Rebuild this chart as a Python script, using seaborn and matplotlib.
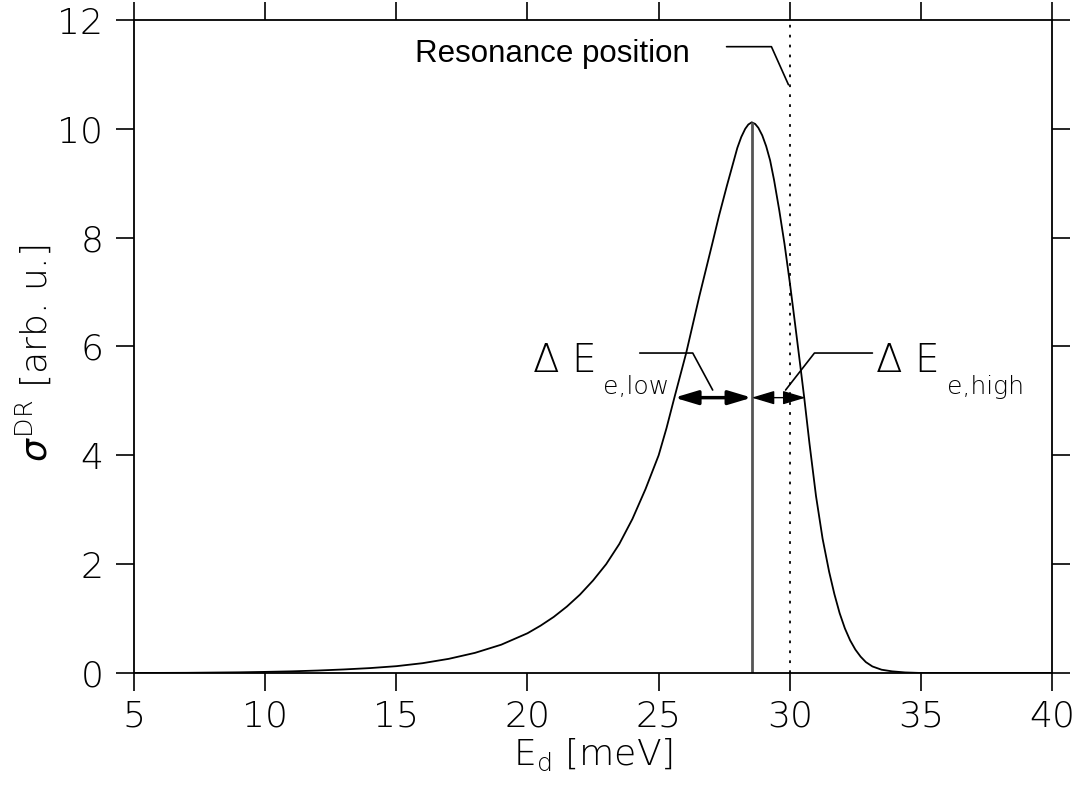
import matplotlib
matplotlib.use("Agg")
import numpy as np
import pandas as pd
import seaborn as sns
import matplotlib.pyplot as plt
from matplotlib import font_manager

# Dielectronic recombination resonance profile (collision energy vs cross section)
energy = [5.0, 7.0, 9.0, 10.0, 11.0, 12.0, 13.0, 14.0, 15.0, 16.0, 17.0, 18.0,
          19.0, 20.0, 20.5, 21.0, 21.5, 22.0, 22.5, 23.0, 23.5, 24.0, 24.5,
          25.0, 25.3, 25.6, 26.05, 26.55, 27.05, 27.3, 27.6, 27.8, 28.0, 28.15,
          28.3, 28.42, 28.55, 28.68, 28.8, 28.95, 29.1, 29.25, 29.4, 29.6, 29.8,
          30.0, 30.2, 30.4, 30.55, 30.75, 31.0, 31.25, 31.5, 31.7, 31.9, 32.1,
          32.3, 32.5, 32.7, 32.9, 33.15, 33.5, 33.9, 34.4, 35.0, 40.0]
sigma = [0.0, 0.003, 0.012, 0.02, 0.03, 0.045, 0.065, 0.09, 0.125, 0.18, 0.26,
         0.37, 0.52, 0.73, 0.87, 1.03, 1.22, 1.44, 1.7, 2.0, 2.37, 2.83, 3.38,
         4.0, 4.5, 5.06, 5.88, 6.92, 7.9, 8.4, 8.95, 9.3, 9.65, 9.85,
         10.0, 10.08, 10.12, 10.09, 10.02, 9.88, 9.68, 9.42, 9.06, 8.5, 7.88,
         7.18, 6.42, 5.65, 5.06, 4.22, 3.25, 2.47, 1.86, 1.45, 1.1, 0.82,
         0.6, 0.43, 0.3, 0.2, 0.12, 0.06, 0.03, 0.01, 0.0, 0.0]

resonance_energy = 30.0
fwhm_low_edge = 25.6
fwhm_high_edge = 30.6

x_ticks = [5, 10, 15, 20, 25, 30, 35, 40]
y_ticks = [0, 2, 4, 6, 8, 10, 12]


def light_font():
    """Pick a thin sans-serif face for the axis text."""
    prefs = ["DejaVu Sans", "Lato", "Roboto", "Open Sans", "Inter", "Noto Sans"]
    for fam in prefs:
        weights = []
        for fe in font_manager.fontManager.ttflist:
            if fe.name == fam and fe.style == "normal":
                w = fe.weight
                if isinstance(w, str):
                    w = font_manager.weight_dict.get(w, 400)
                if w < 400:
                    weights.append(w)
        if weights:
            return fam, min(weights, key=lambda v: abs(v - 200))
    return "DejaVu Sans", 400


sns.set_theme(style="ticks")
fam, wt = light_font()
plt.rcParams["font.family"] = [fam, "DejaVu Sans"]
plt.rcParams["font.weight"] = wt
plt.rcParams["axes.labelweight"] = wt
plt.rcParams["text.color"] = "black"
plt.rcParams["axes.labelcolor"] = "black"
plt.rcParams["xtick.color"] = "black"
plt.rcParams["ytick.color"] = "black"
plt.rcParams["mathtext.fontset"] = "custom"
plt.rcParams["mathtext.rm"] = f"{fam}:weight={wt}"
plt.rcParams["mathtext.it"] = "DejaVu Sans:italic"
plt.rcParams["mathtext.bf"] = "DejaVu Sans:bold"

df = pd.DataFrame({"energy": energy, "sigma": sigma})

fig = plt.figure(figsize=(10.74, 7.85), dpi=100)
ax = fig.add_axes([0.1248, 0.1427, 0.8548, 0.8318])

sns.lineplot(data=df, x="energy", y="sigma", ax=ax, color="black", lw=1.3)

i_peak = int(np.argmax(sigma))
peak_e = energy[i_peak]
peak_s = sigma[i_peak]
half = peak_s / 2.0

ax.vlines(peak_e, 0, peak_s, color="#555555", lw=2.0)
ax.axvline(resonance_energy, color="black", lw=1.3, ls=(0, (1.5, 4.0)))

# FWHM arrows
ax.annotate("", xy=(fwhm_low_edge, half), xytext=(peak_e, half),
            arrowprops=dict(arrowstyle="<|-|>,head_length=1.0,head_width=0.3",
                            mutation_scale=14, lw=2.5, color="black",
                            shrinkA=0, shrinkB=0))
ax.annotate("", xy=(fwhm_high_edge, half), xytext=(peak_e, half),
            arrowprops=dict(arrowstyle="<|-|>,head_length=1.0,head_width=0.3",
                            mutation_scale=14, lw=1.0, color="black",
                            shrinkA=0, shrinkB=0))

# leader lines for the labels
leader_low = ([24.28, 26.3, 27.06], [5.88, 5.88, 5.2])
leader_high = ([33.15, 30.94, 29.84], [5.88, 5.88, 5.2])
leader_res = ([27.59, 29.3, 29.95], [11.51, 11.51, 10.81])
for lx, ly in (leader_low, leader_high, leader_res):
    ax.plot(lx, ly, color="black", lw=1.2)

ax.text(15.7, 11.23, "Resonance position", family="Liberation Sans",
        fontsize=22.5, fontweight="normal", va="baseline")

t_low = ax.text(20.2, 5.53, "Δ E", fontsize=28, va="baseline")
ax.annotate("e,low", xy=(1, 0), xycoords=t_low, xytext=(5, -10),
            textcoords="offset points", fontsize=18, va="baseline")
t_high = ax.text(33.3, 5.53, "Δ E", fontsize=28, va="baseline")
ax.annotate("e,high", xy=(1, 0), xycoords=t_high, xytext=(5, -10),
            textcoords="offset points", fontsize=18, va="baseline")

ax.set_xlim(5, 40)
ax.set_ylim(0, 12)
ax.set_xticks(x_ticks)
ax.set_yticks(y_ticks)
ax.tick_params(axis="both", which="both", direction="out", length=13,
               width=1.2, color="black", labelsize=26,
               top=True, right=True, labeltop=False, labelright=False)
ax.tick_params(axis="x", pad=6)
ax.tick_params(axis="y", pad=9)
for sp in ax.spines.values():
    sp.set_color("black")
    sp.set_linewidth(1.3)
ax.grid(False)

ax.set_xlabel(r"$\mathrm{E}_{\mathrm{d}}$ [meV]", fontsize=26, fontweight=wt)
ax.set_ylabel(r"$\sigma^{\mathrm{DR}}$ [arb. u.]", fontsize=26, fontweight=wt)
ax.xaxis.set_label_coords(0.5, -0.097)
ax.yaxis.set_label_coords(-0.088, 0.49)

fig.savefig("out.png", dpi=100, facecolor="white")
